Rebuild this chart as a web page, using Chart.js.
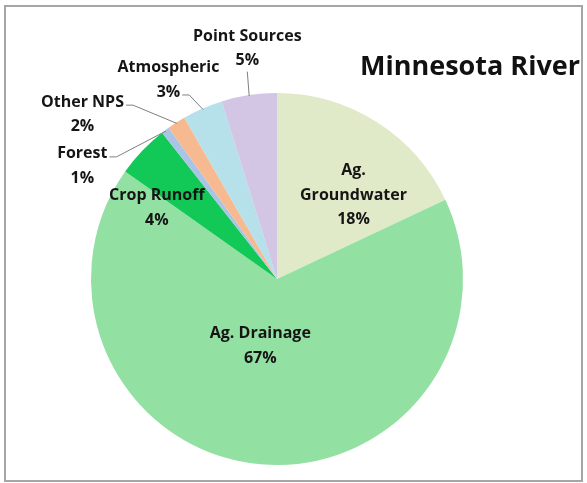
<!DOCTYPE html>
<html>
<head>
<meta charset="utf-8">
<script src="https://cdn.jsdelivr.net/npm/chart.js@4.4.1/dist/chart.umd.min.js"></script>
<style>
  html, body { margin: 0; padding: 0; background: #fff; }
  canvas { display: block; }
</style>
</head>
<body>
<canvas id="grafico" width="587" height="483"></canvas>
<script>
// dados
const categorias = ["Ag. Groundwater", "Ag. Drainage", "Crop Runoff", "Forest", "Other NPS", "Atmospheric", "Point Sources"];
const valores = [18.0, 66.8, 4.6, 0.7, 1.6, 3.5, 4.8];
const rotulosPct = ["18%", "67%", "4%", "1%", "2%", "3%", "5%"];
const linhasNome = [["Ag.", "Groundwater"], ["Ag. Drainage"], ["Crop Runoff"], ["Forest"], ["Other NPS"], ["Atmospheric"], ["Point Sources"]];
const titulo = "Minnesota River";

const cores = ["#e1eac8", "#92e0a2", "#12c856", "#aac4e6", "#f7ba90", "#b6e0ea", "#d3c5e4"];

// onde cada rotulo fica: angulo extra (graus) e raio relativo ao arco
const posRotulos = [
  { da: 10, r: 0.61 },
  { da: 9, r: 0.37 },
  { da: -13, r: 0.75 },
  { da: -23, r: 1.21, guia: "primeira" },
  { da: -17, r: 1.37, guia: "primeira" },
  { da: -5, r: 1.22, guia: "ultima" },
  { da: 1.3, r: 1.25, guia: "baixo" }
];

const fonteRotulo = "bold 16px 'Open Sans'";
const alturaLinha = 24.5;

const rotulosPlugin = {
  id: "rotulos",
  beforeDraw(chart) {
    const c = chart.ctx;
    c.save();
    c.fillStyle = "#fff";
    c.fillRect(0, 0, chart.width, chart.height);
    c.strokeStyle = "#a6a6a6";
    c.lineWidth = 2;
    c.strokeRect(5, 6, chart.width - 10, chart.height - 8);
    c.restore();
  },
  afterDraw(chart) {
    const c = chart.ctx;
    const arcos = chart.getDatasetMeta(0).data;
    c.save();
    c.font = fonteRotulo;
    c.textAlign = "center";
    c.textBaseline = "middle";
    arcos.forEach((arco, i) => {
      const { x, y, startAngle, endAngle, outerRadius } = arco.getProps(["x", "y", "startAngle", "endAngle", "outerRadius"], true);
      const meio = (startAngle + endAngle) / 2;
      const p = posRotulos[i];
      const a = meio + p.da * Math.PI / 180;
      const lx = x + Math.cos(a) * outerRadius * p.r;
      const ly = y + Math.sin(a) * outerRadius * p.r;
      const linhas = linhasNome[i].concat([rotulosPct[i]]);
      const n = linhas.length;
      c.fillStyle = "#151515";
      linhas.forEach((t, k) => {
        c.fillText(t, lx, ly + (k - (n - 1) / 2) * alturaLinha);
      });
      if (!p.guia) return;
      // linha guia ate a borda do arco
      const bx = x + Math.cos(meio) * (outerRadius - 1);
      const by = y + Math.sin(meio) * (outerRadius - 1);
      c.strokeStyle = "#808080";
      c.lineWidth = 1;
      c.beginPath();
      if (p.guia === "baixo") {
        const yb = ly + ((n - 1) / 2) * alturaLinha + 11;
        c.moveTo(lx, yb);
        c.lineTo(bx, by);
      } else {
        const k = p.guia === "primeira" ? 0 : n - 1;
        const t = linhas[k];
        const w = c.measureText(t).width;
        const sx = lx + w / 2 + 2;
        const sy = ly + (k - (n - 1) / 2) * alturaLinha + 3;
        c.moveTo(sx, sy);
        c.lineTo(sx + 7, sy);
        c.lineTo(bx, by);
      }
      c.stroke();
    });
    // titulo
    c.font = "bold 27px 'Open Sans'";
    c.fillStyle = "#111";
    c.fillText(titulo, 470, 67);
    c.restore();
  }
};

new Chart(document.getElementById("grafico"), {
  type: "pie",
  data: {
    labels: categorias,
    datasets: [{ data: valores, backgroundColor: cores, borderWidth: 0 }]
  },
  options: {
    responsive: false,
    animation: false,
    layout: { padding: { top: 93, left: 91, right: 124, bottom: 18 } },
    plugins: { legend: { display: false }, tooltip: { enabled: false } }
  },
  plugins: [rotulosPlugin]
});
</script>
</body>
</html>
